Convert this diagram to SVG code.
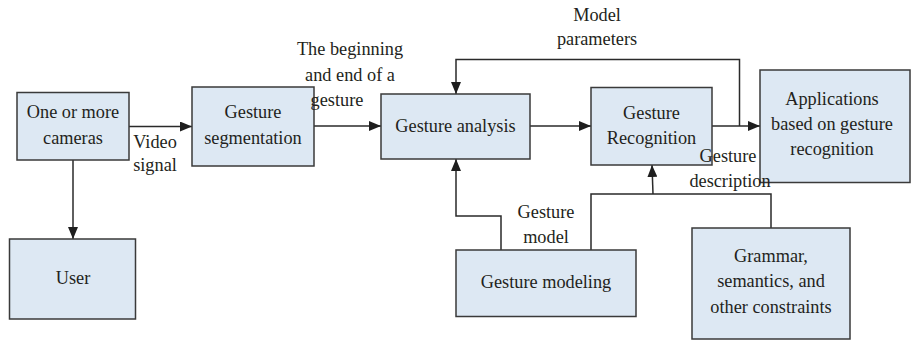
<svg xmlns="http://www.w3.org/2000/svg" width="911" height="341" viewBox="0 0 911 341">
  <style>
    .box { fill: #dde8f3; stroke: #3a3a3a; stroke-width: 1.5; }
    .lbl { font-family: "Liberation Serif", "Times New Roman", serif; font-size: 18.3px; fill: #231f20; text-anchor: middle; }
    .wire { fill: none; stroke: #2a2a2a; stroke-width: 1.5; }
  </style>
  <defs>
    <marker id="arrow" viewBox="0 0 12 10" refX="12" refY="5" markerWidth="12" markerHeight="10" markerUnits="userSpaceOnUse" orient="auto">
      <path d="M0,0 L12,5 L0,10 Z" fill="#1e1e1e"/>
    </marker>
  </defs>
  <rect width="911" height="341" fill="#ffffff"/>

  <!-- connectors -->
  <g id="connectors">
    <line class="wire" x1="129" y1="126.5" x2="192" y2="126.5" marker-end="url(#arrow)"/>
    <line class="wire" x1="73" y1="160" x2="73" y2="239" marker-end="url(#arrow)"/>
    <line class="wire" x1="314" y1="126" x2="381" y2="126" marker-end="url(#arrow)"/>
    <line class="wire" x1="530" y1="126" x2="591" y2="126" marker-end="url(#arrow)"/>
    <line class="wire" x1="712" y1="126" x2="760" y2="126" marker-end="url(#arrow)"/>
    <!-- model parameters feedback -->
    <polyline class="wire" points="739.5,126 739.5,59.5 456,59.5 456,94" marker-end="url(#arrow)"/>
    <!-- gesture model into analysis -->
    <polyline class="wire" points="501,250 501,216 456,216 456,159" marker-end="url(#arrow)"/>
    <!-- gesture description into recognition -->
    <polyline class="wire" points="591,250 591,194 771,194 771,228"/>
    <line class="wire" x1="653" y1="194" x2="652" y2="165" marker-end="url(#arrow)"/>
  </g>

  <g id="cameras">
    <rect class="box" x="17" y="92.5" width="112" height="67.5"/>
    <text class="lbl" x="73" y="118">One or more</text>
    <text class="lbl" x="73" y="144">cameras</text>
  </g>
  <g id="user">
    <rect class="box" x="9.5" y="239" width="126" height="80"/>
    <text class="lbl" x="73" y="284">User</text>
  </g>
  <g id="segmentation">
    <rect class="box" x="192" y="87" width="122" height="79"/>
    <text class="lbl" x="253" y="118">Gesture</text>
    <text class="lbl" x="253" y="144">segmentation</text>
  </g>
  <g id="analysis">
    <rect class="box" x="381" y="94" width="149" height="65"/>
    <text class="lbl" x="455.5" y="132">Gesture analysis</text>
  </g>
  <g id="recognition">
    <rect class="box" x="591" y="87.5" width="121" height="77.5"/>
    <text class="lbl" x="651.5" y="118.5">Gesture</text>
    <text class="lbl" x="651.5" y="144">Recognition</text>
  </g>
  <g id="applications">
    <rect class="box" x="760" y="70" width="150" height="112.5"/>
    <text class="lbl" x="832" y="105">Applications</text>
    <text class="lbl" x="832" y="130">based on gesture</text>
    <text class="lbl" x="832" y="155">recognition</text>
  </g>
  <g id="modeling">
    <rect class="box" x="456" y="250" width="180" height="66.5"/>
    <text class="lbl" x="546" y="288">Gesture modeling</text>
  </g>
  <g id="constraints">
    <rect class="box" x="692" y="228" width="158" height="111"/>
    <text class="lbl" x="771" y="262">Grammar,</text>
    <text class="lbl" x="771" y="287">semantics, and</text>
    <text class="lbl" x="771" y="312.5">other constraints</text>
  </g>

  <!-- connector labels -->
  <g id="labels">
    <text class="lbl" x="155" y="148">Video</text>
    <text class="lbl" x="155" y="171">signal</text>
    <text class="lbl" x="350" y="55">The beginning</text>
    <text class="lbl" x="350" y="81">and end of a</text>
    <text class="lbl" x="337" y="106">gesture</text>
    <text class="lbl" x="597" y="21">Model</text>
    <text class="lbl" x="597" y="45">parameters</text>
    <text class="lbl" x="728" y="162">Gesture</text>
    <text class="lbl" x="730" y="187">description</text>
    <text class="lbl" x="546" y="218">Gesture</text>
    <text class="lbl" x="546" y="243">model</text>
  </g>
</svg>
